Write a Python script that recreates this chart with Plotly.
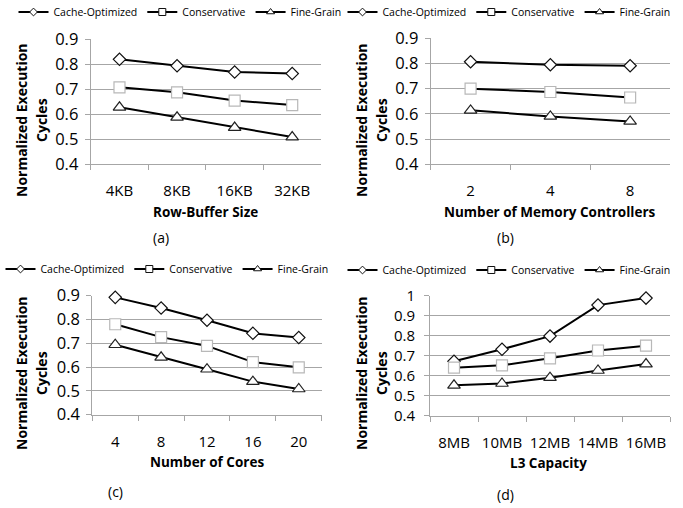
import plotly.graph_objects as go

series_names = ["Cache-Optimized", "Conservative", "Fine-Grain"]

# Panel (a)
a_cats = ["4KB", "8KB", "16KB", "32KB"]
a_cache = [0.82, 0.794, 0.769, 0.763]
a_cons = [0.708, 0.688, 0.655, 0.637]
a_fine = [0.628, 0.588, 0.547, 0.509]

# Panel (b)
b_cats = ["2", "4", "8"]
b_cache = [0.807, 0.795, 0.791]
b_cons = [0.700, 0.687, 0.665]
b_fine = [0.614, 0.590, 0.570]

# Panel (c)
c_cats = ["4", "8", "12", "16", "20"]
c_cache = [0.893, 0.848, 0.797, 0.742, 0.724]
c_cons = [0.780, 0.726, 0.689, 0.621, 0.599]
c_fine = [0.694, 0.641, 0.591, 0.539, 0.508]

# Panel (d)
d_cats = ["8MB", "10MB", "12MB", "14MB", "16MB"]
d_cache = [0.672, 0.732, 0.798, 0.953, 0.988]
d_cons = [0.640, 0.652, 0.687, 0.726, 0.750]
d_fine = [0.552, 0.561, 0.590, 0.626, 0.658]

x_titles = ["Row-Buffer Size", "Number of Memory Controllers", "Number of Cores", "L3 Capacity"]
panel_labels = ["(a)", "(b)", "(c)", "(d)"]
y_title_lines = ["Normalized Execution", "Cycles"]

W, H = 683, 508
FONT = "Open Sans"
GRID = "#a6a6a6"

markers = [
    dict(symbol="diamond", size=9.5, color="white", line=dict(color="#111111", width=1.2)),
    dict(symbol="square", size=11, color="white", line=dict(color="#b8b8b8", width=1.2)),
    dict(symbol="triangle-up", size=11, color="white", line=dict(color="#222222", width=1.2)),
]
legend_markers = [
    dict(symbol="diamond", size=6, color="white", line=dict(color="#111111", width=1)),
    dict(symbol="square", size=7, color="white", line=dict(color="#111111", width=1)),
    dict(symbol="triangle-up", size=7, color="white", line=dict(color="#111111", width=1)),
]

panels = [
    (a_cats, [a_cache, a_cons, a_fine], [0.4, 0.9]),
    (b_cats, [b_cache, b_cons, b_fine], [0.4, 0.9]),
    (c_cats, [c_cache, c_cons, c_fine], [0.4, 0.9]),
    (d_cats, [d_cache, d_cons, d_fine], [0.4, 1.0]),
]
ytick_sizes = [16.5, 16.5, 16.5, 15]

# plot-area pixel boxes (left, right, top, bottom)
boxes = [
    (90.7, 321.0, 39.3, 164.3),
    (430.7, 670.0, 38.3, 164.3),
    (92.3, 321.7, 295.7, 414.7),
    (430.0, 670.0, 295.7, 415.7),
]

fig = go.Figure()
layout = dict(
    width=W, height=H, margin=dict(l=0, r=0, t=0, b=0, autoexpand=False),
    paper_bgcolor="white", plot_bgcolor="white",
    font=dict(family=FONT, color="#000000"),
    showlegend=True, annotations=[],
)

legend_pos = [(180, 12), (509, 12), (167, 269), (509, 270)]

for i, (cats, vals, yr) in enumerate(panels):
    k = "" if i == 0 else str(i + 1)
    xa, ya = "x" + k, "y" + k
    lg = "legend" + k
    l, r, t, b = boxes[i]
    for j, name in enumerate(series_names):
        fig.add_trace(go.Scatter(
            x=cats, y=vals[j], mode="lines+markers", name=name,
            line=dict(color="#000000", width=2), marker=markers[j],
            xaxis=xa, yaxis=ya, showlegend=False, cliponaxis=False,
        ))
    for j, name in enumerate(series_names):
        fig.add_trace(go.Scatter(
            x=[cats[0]], y=[None], mode="lines+markers", name=name,
            line=dict(color="#000000", width=2), marker=legend_markers[j],
            xaxis=xa, yaxis=ya, showlegend=True, legend=lg,
        ))
    layout["xaxis" + k] = dict(
        domain=[l / W, r / W], anchor=ya, type="category",
        range=[-0.5, len(cats) - 0.5], tickson="boundaries",
        showline=True, linecolor=GRID, linewidth=1,
        ticks="outside", ticklen=5, tickcolor=GRID,
        showgrid=False, zeroline=False, tickangle=0,
        tickfont=dict(family=FONT, size=15, color="#000"),
        ticklabelstandoff=13,
    )
    layout["yaxis" + k] = dict(
        domain=[1 - b / H, 1 - t / H], anchor=xa,
        range=yr, dtick=0.1, tick0=0.4,
        showline=True, linecolor=GRID, linewidth=1,
        ticks="outside", ticklen=5, tickcolor=GRID,
        showgrid=True, gridcolor=GRID, gridwidth=1, zeroline=False,
        tickfont=dict(family=FONT, size=ytick_sizes[i], color="#000"),
        tickformat=".1~f", ticklabelstandoff=3 if i < 3 else 6,
    )
    lx, ly = legend_pos[i]
    layout[lg] = dict(
        orientation="h", x=lx / W, y=1 - ly / H, xanchor="center", yanchor="middle",
        font=dict(family=FONT, size=10.5, color="#000"), itemwidth=30,
        tracegroupgap=0, bgcolor="rgba(0,0,0,0)",
    )

ann = layout["annotations"]
xtitle_pos = [(205, 212), (550, 212), (207, 462), (548, 463)]
label_pos = [(161, 237), (505, 237), (115, 491), (505, 494)]
ytitle_pos = [(21, 120), (361, 120), (21, 373), (361, 373)]
for i in range(4):
    x, y = xtitle_pos[i]
    ann.append(dict(text="<b>" + x_titles[i] + "</b>", x=x / W, y=1 - y / H, xref="paper", yref="paper",
                    showarrow=False, xanchor="center", yanchor="middle",
                    font=dict(family=FONT, size=13.5, color="#000")))
    x, y = label_pos[i]
    ann.append(dict(text=panel_labels[i], x=x / W, y=1 - y / H, xref="paper", yref="paper",
                    showarrow=False, xanchor="center", yanchor="middle",
                    font=dict(family=FONT, size=14, color="#000")))
    x, y = ytitle_pos[i]
    for n, line in enumerate(y_title_lines):
        ann.append(dict(text="<b>" + line + "</b>", x=(x + 20 * n) / W, y=1 - y / H,
                        xref="paper", yref="paper", showarrow=False, textangle=-90,
                        xanchor="center", yanchor="middle",
                        font=dict(family=FONT, size=14, color="#000")))

fig.update_layout(**layout)
fig.write_html("out.html", config={"displayModeBar": False},
               post_script="document.body.style.margin='0';")
